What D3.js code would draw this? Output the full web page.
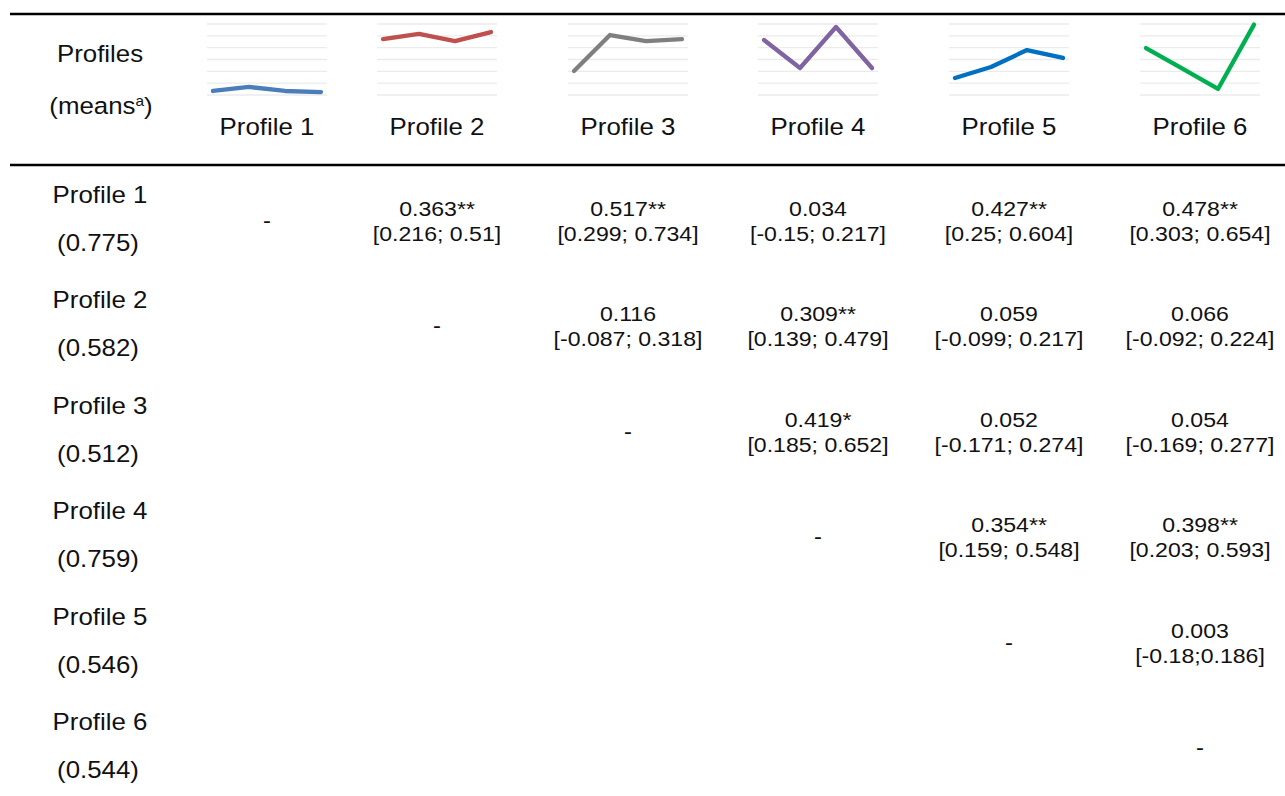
<!DOCTYPE html>
<html>
<head>
<meta charset="utf-8">
<script src="https://cdn.jsdelivr.net/npm/d3@7"></script>
<style>
  body { margin: 0; background: #fff; }
  text { font-family: "Liberation Sans", Arial, sans-serif; fill: #111; }
</style>
</head>
<body>
<div id="table"></div>
<script>
const profiles = ["Profile 1", "Profile 2", "Profile 3", "Profile 4", "Profile 5", "Profile 6"];
const means = ["(0.775)", "(0.582)", "(0.512)", "(0.759)", "(0.546)", "(0.544)"];

// upper triangle, row i starts at column i+1
const estimates = [
  ["0.363**", "0.517**", "0.034", "0.427**", "0.478**"],
  ["0.116", "0.309**", "0.059", "0.066"],
  ["0.419*", "0.052", "0.054"],
  ["0.354**", "0.398**"],
  ["0.003"],
  []
];
const intervals = [
  ["[0.216; 0.51]", "[0.299; 0.734]", "[-0.15; 0.217]", "[0.25; 0.604]", "[0.303; 0.654]"],
  ["[-0.087; 0.318]", "[0.139; 0.479]", "[-0.099; 0.217]", "[-0.092; 0.224]"],
  ["[0.185; 0.652]", "[-0.171; 0.274]", "[-0.169; 0.277]"],
  ["[0.159; 0.548]", "[0.203; 0.593]"],
  ["[-0.18;0.186]"],
  []
];

// sparkline values (4 points per profile)
const sparkValues = [
  [0.34, 0.68, 0.34, 0.25],
  [4.73, 5.16, 4.56, 5.32],
  [2.03, 5.07, 4.56, 4.73],
  [4.65, 2.28, 5.75, 2.28],
  [1.44, 2.37, 3.80, 3.13],
  [3.97, 2.25, 0.51, 5.95]
];
const sparkTicks = [0, 1, 2, 3, 4, 5, 6];
const sparkColors = ["#4a7ebb", "#c0504d", "#7f7f7f", "#8064a2", "#0070c0", "#00b050"];

const width = 1285, height = 796;
const SX = 1.1; // the source table is slightly stretched horizontally

const svg = d3.select("#table")
  .append("svg")
  .attr("width", width)
  .attr("height", height);

const colX = d3.scaleOrdinal()
  .domain(profiles)
  .range([267, 437, 628, 818, 1009, 1200]);

const rowY = d3.scalePoint()
  .domain(profiles)
  .range([0, 527]);

function label(g, x, y, str, size) {
  return g.append("text")
    .attr("transform", `translate(${x},${y}) scale(${SX},1)`)
    .attr("text-anchor", "middle")
    .attr("font-size", size)
    .text(str);
}

// rules
svg.append("line").attr("x1", 10).attr("x2", width).attr("y1", 14).attr("y2", 14)
  .attr("stroke", "#000").attr("stroke-width", 2.5);
svg.append("line").attr("x1", 10).attr("x2", width).attr("y1", 165).attr("y2", 165)
  .attr("stroke", "#000").attr("stroke-width", 2.5);

// header
label(svg, 100, 62, "Profiles", 23.5);
const m = label(svg, 101, 114, "(means", 23.5);
m.append("tspan").attr("font-size", 14).attr("dy", -8).text("a");
m.append("tspan").attr("dy", 8).text(")");

// sparklines
const sy = d3.scaleLinear().domain([0, 6]).range([95, 24]);
profiles.forEach((p, i) => {
  const cx = colX(p);
  const sx = d3.scalePoint().domain(d3.range(4)).range([cx - 54, cx + 54]);
  const g = svg.append("g").attr("class", "spark");
  g.selectAll("line.grid")
    .data(sparkTicks)
    .join("line")
    .attr("class", "grid")
    .attr("x1", cx - 60).attr("x2", cx + 60)
    .attr("y1", d => sy(d)).attr("y2", d => sy(d))
    .attr("stroke", "#ebebeb")
    .attr("stroke-width", 1.3);
  g.append("path")
    .datum(sparkValues[i])
    .attr("d", d3.line().x((d, j) => sx(j)).y(d => sy(d)))
    .attr("fill", "none")
    .attr("stroke", sparkColors[i])
    .attr("stroke-width", 4.3)
    .attr("stroke-linecap", "round")
    .attr("stroke-linejoin", "round");
  label(svg, cx, 135, p, 23.5);
});

// body rows
profiles.forEach((p, i) => {
  const y0 = rowY(p);
  label(svg, 100, 203 + y0, p, 23.5);
  label(svg, 98, 251 + y0, means[i], 23.5);
  label(svg, colX(p), 228 + y0, "-", 21.5);
  estimates[i].forEach((e, k) => {
    const col = profiles[i + 1 + k];
    label(svg, colX(col), 216 + y0, e, 21);
    label(svg, colX(col), 241 + y0, intervals[i][k], 21);
  });
});
</script>
</body>
</html>
